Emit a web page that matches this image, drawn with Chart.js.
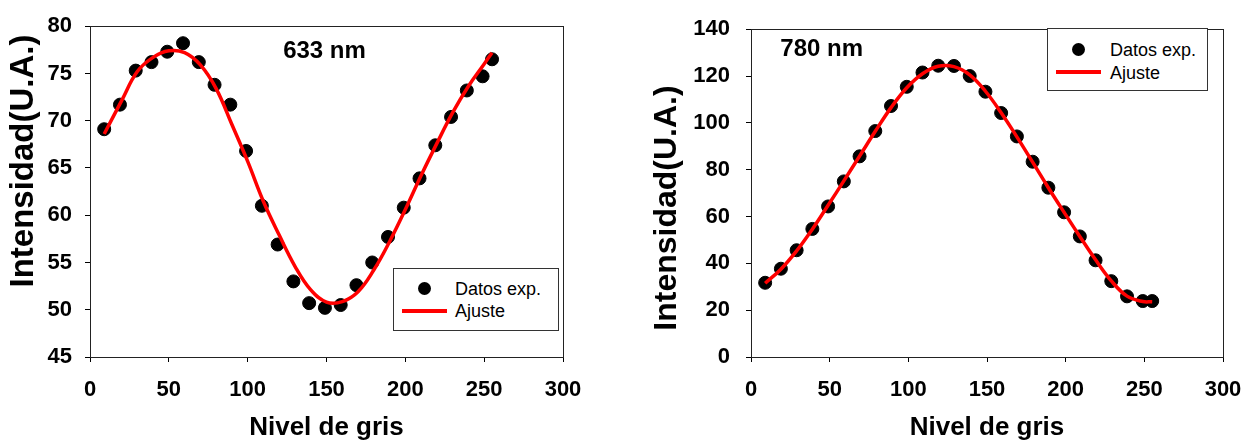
<!DOCTYPE html>
<html>
<head>
<meta charset="utf-8">
<script src="https://cdn.jsdelivr.net/npm/chart.js@4.4.1/dist/chart.umd.min.js"></script>
<style>
  html, body { margin:0; padding:0; background:#fff; }
  body { width:1259px; height:445px; position:relative; overflow:hidden; font-family:"Liberation Sans", Arial, sans-serif; }
  canvas { position:absolute; top:0; }
  .lbl { position:absolute; font-weight:bold; font-size:24px; line-height:24px; color:#000; width:200px; text-align:center; white-space:nowrap; }
  .leg { position:absolute; border:1px solid #333; background:#fff; box-sizing:border-box; }
  .leg .dot { position:absolute; width:13px; height:13px; border-radius:50%; background:#000; }
  .leg .ln { position:absolute; height:4px; background:#ff0000; }
  .leg .tx { position:absolute; font-size:18px; line-height:18px; color:#000; white-space:nowrap; }
</style>
</head>
<body>
<canvas id="c1" width="640" height="445" style="left:0px"></canvas>
<canvas id="c2" width="619" height="445" style="left:640px"></canvas>

<div class="lbl" style="left:224.5px; top:38px;">633 nm</div>
<div class="lbl" style="left:721.7px; top:36px;">780 nm</div>

<div class="leg" style="left:393px; top:268px; width:166px; height:63px;">
  <div class="dot" style="left:24px; top:13px;"></div>
  <div class="ln" style="left:8px; width:45px; top:40px;"></div>
  <div class="tx" style="left:61px; top:10.5px;">Datos exp.</div>
  <div class="tx" style="left:61px; top:32.5px;">Ajuste</div>
</div>
<div class="leg" style="left:1047px; top:28px; width:161px; height:63px;">
  <div class="dot" style="left:24px; top:14px;"></div>
  <div class="ln" style="left:8px; width:45px; top:41px;"></div>
  <div class="tx" style="left:62px; top:11.5px;">Datos exp.</div>
  <div class="tx" style="left:62px; top:34.5px;">Ajuste</div>
</div>

<script>
// ---- data ----
const grayLevels = [9, 19, 29, 39, 49, 59, 69, 79, 89, 99, 109, 119, 129, 139, 149, 159, 169, 179, 189, 199, 209, 219, 229, 239, 249, 255];
const int633 = [69.1, 71.7, 75.3, 76.2, 77.3, 78.2, 76.2, 73.8, 71.7, 66.8, 61.0, 56.9, 53.0, 50.7, 50.2, 50.5, 52.6, 55.0, 57.7, 60.8, 63.9, 67.4, 70.4, 73.2, 74.7, 76.5];
const int780 = [31.7, 37.7, 45.6, 54.7, 64.3, 75.0, 85.7, 96.5, 107.2, 115.4, 121.5, 124.4, 124.3, 120.0, 113.3, 104.2, 94.2, 83.4, 72.3, 61.8, 51.5, 41.3, 32.4, 25.9, 23.9, 23.9];

const fit633X = [9, 20, 30, 40, 50, 60, 70, 80, 90, 100, 110, 120, 130, 140, 150, 160, 170, 180, 190, 200, 210, 220, 230, 240, 250, 255];
const fit633 = [68.6, 72.1, 75.2, 76.7, 77.4, 77.2, 75.9, 73.4, 69.6, 65.7, 61.45, 57.9, 54.6, 52.1, 50.8, 50.85, 51.9, 54.2, 57.2, 60.6, 64.2, 67.6, 70.85, 73.65, 76.0, 77.2];

const fit780X = [9, 19, 29, 39, 49, 59, 69, 79, 89, 99, 109, 119, 129, 139, 149, 159, 169, 179, 189, 199, 209, 219, 229, 239, 249, 255];
const fit780 = [31.5, 37.5, 45.3, 54.6, 64.8, 75.2, 85.8, 96.4, 106.5, 115.0, 121.0, 124.2, 124.0, 120.5, 113.5, 104.3, 94.0, 83.2, 72.3, 61.8, 51.5, 41.5, 32.5, 26.0, 23.7, 23.6];

const xTicks = [0, 50, 100, 150, 200, 250, 300];
const yTicks633 = [45, 50, 55, 60, 65, 70, 75, 80];
const yTicks780 = [0, 20, 40, 60, 80, 100, 120, 140];

const xTitle = 'Nivel de gris';
const yTitle = 'Intensidad(U.A.)';
const seriesNames = ['Datos exp.', 'Ajuste'];

// ---- helpers ----
const FONT = '"Liberation Sans", Arial, sans-serif';
const pts = (xs, ys) => xs.map((x, i) => ({ x: x, y: ys[i] }));

const framePlugin = {
  id: 'frame',
  beforeDatasetsDraw(chart) {
    const { ctx, chartArea: a } = chart;
    ctx.save();
    ctx.strokeStyle = '#222';
    ctx.lineWidth = 1;
    ctx.strokeRect(Math.round(a.left) + 0.5, Math.round(a.top) + 0.5, Math.round(a.right - a.left), Math.round(a.bottom - a.top));
    ctx.restore();
  }
};

function yTitlePlugin(text, x, y, size) {
  return {
    id: 'ytitle',
    afterDraw(chart) {
      const ctx = chart.ctx;
      ctx.save();
      ctx.translate(x, y);
      ctx.rotate(-Math.PI / 2);
      ctx.font = 'bold ' + size + 'px ' + FONT;
      ctx.fillStyle = '#000';
      ctx.textAlign = 'center';
      ctx.textBaseline = 'middle';
      ctx.fillText(text, 0, 0);
      ctx.restore();
    }
  };
}

function makeChart(id, xs, ys, fx, fy, yTickVals, yAxisWidth, yPad, padRight, titlePos) {
  const yMin = yTickVals[0], yMax = yTickVals[yTickVals.length - 1];
  const yStep = yTickVals[1] - yTickVals[0];
  return new Chart(document.getElementById(id), {
    type: 'scatter',
    data: {
      datasets: [
        {
          type: 'line',
          label: seriesNames[1],
          data: pts(fx, fy),
          borderColor: '#ff0000',
          borderWidth: 3.5,
          pointRadius: 0,
          fill: false,
          tension: 0.4,
          order: 0
        },
        {
          label: seriesNames[0],
          data: pts(xs, ys),
          backgroundColor: '#000',
          borderColor: '#000',
          pointRadius: 6.5,
          pointHoverRadius: 6.5,
          order: 1
        }
      ]
    },
    options: {
      responsive: false,
      animation: false,
      events: [],
      layout: { padding: { top: 16, right: padRight, bottom: 0, left: 0 } },
      plugins: { legend: { display: false }, tooltip: { enabled: false } },
      scales: {
        x: {
          type: 'linear',
          min: xTicks[0], max: xTicks[xTicks.length - 1],
          ticks: { stepSize: xTicks[1] - xTicks[0], color: '#000', font: { family: FONT, size: 22, weight: 'bold' }, padding: 15, maxRotation: 0 },
          grid: { drawOnChartArea: false, tickLength: 5, color: '#000' },
          border: { color: '#000', width: 1 },
          title: { display: true, text: xTitle, color: '#000', font: { family: FONT, size: 26, weight: 'bold' }, padding: { top: 0, bottom: 2 } },
          afterFit(s) { s.height = 88; }
        },
        y: {
          type: 'linear',
          min: yMin, max: yMax,
          ticks: { stepSize: yStep, color: '#000', font: { family: FONT, size: 22, weight: 'bold' }, padding: yPad },
          grid: { drawOnChartArea: false, tickLength: 5, color: '#000' },
          border: { color: '#000', width: 1 },
          afterFit(s) { s.width = yAxisWidth; }
        }
      }
    },
    plugins: [framePlugin, yTitlePlugin(yTitle, titlePos[0], titlePos[1], titlePos[2])]
  });
}

makeChart('c1', grayLevels, int633, fit633X, fit633, yTicks633, 90, 13, 77, [24, 161, 33]);
makeChart('c2', grayLevels, int780, fit780X, fit780, yTicks780, 111, 16, 36, [27, 208, 32]);
</script>
</body>
</html>
